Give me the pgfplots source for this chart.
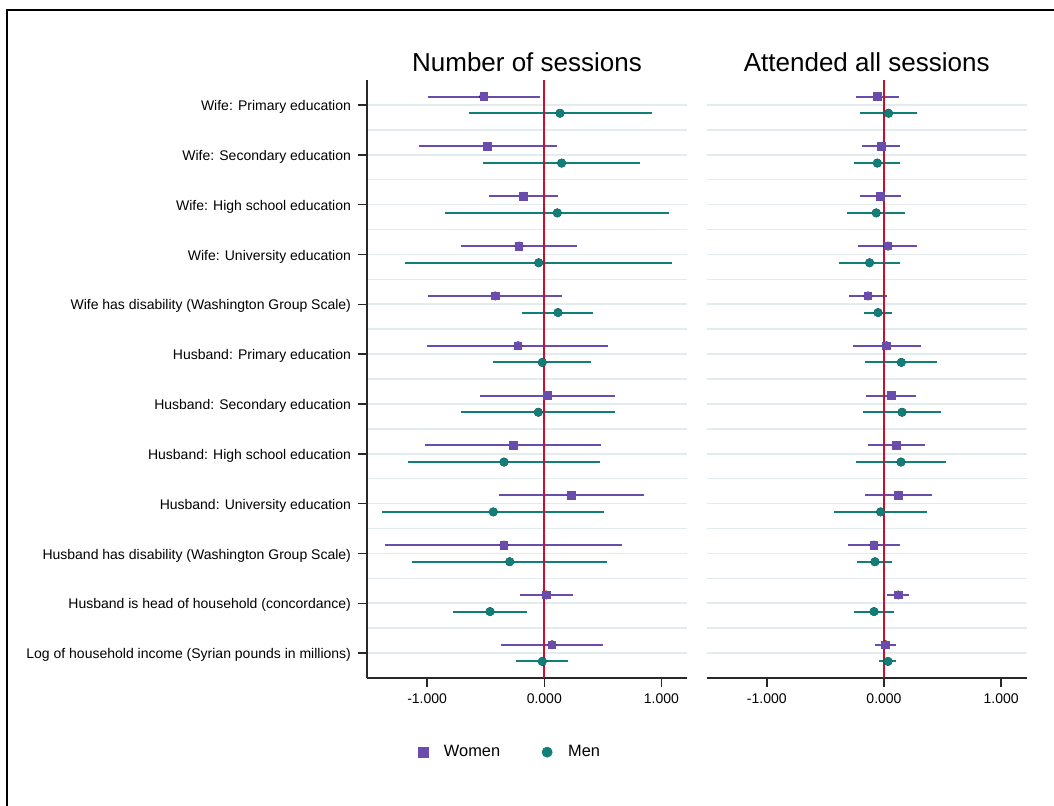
\documentclass[border=0pt]{standalone}
\usepackage{fontspec}
\setmainfont{Liberation Sans}
\usepackage{pgfplots}
\pgfplotsset{compat=1.18}
\usepackage{pgfplotstable}
\definecolor{womenc}{RGB}{106,76,173}
\definecolor{menc}{RGB}{18,126,120}
\definecolor{redl}{RGB}{200,16,46}
\definecolor{gridc}{RGB}{226,236,238}
\definecolor{axc}{RGB}{40,40,40}

% y = position (category 12 = top), x = estimate, lo/hi = CI
\pgfplotstableread{
y x lo hi
12.167 -0.517 -0.995 -0.037
11.167 -0.483 -1.069 0.106
10.167 -0.179 -0.472 0.120
9.167 -0.216 -0.713 0.279
8.167 -0.418 -0.990 0.151
7.167 -0.224 -0.998 0.546
6.167 0.029 -0.549 0.606
5.167 -0.264 -1.015 0.484
4.167 0.230 -0.389 0.851
3.167 -0.344 -1.357 0.663
2.167 0.017 -0.210 0.242
1.167 0.066 -0.367 0.501
}\LW
\pgfplotstableread{
y x lo hi
11.833 0.134 -0.643 0.916
10.833 0.148 -0.520 0.819
9.833 0.111 -0.845 1.067
8.833 -0.048 -1.189 1.092
7.833 0.117 -0.188 0.418
6.833 -0.017 -0.435 0.401
5.833 -0.051 -0.711 0.603
4.833 -0.344 -1.166 0.475
3.833 -0.435 -1.382 0.509
2.833 -0.295 -1.132 0.535
1.833 -0.463 -0.779 -0.150
0.833 -0.017 -0.241 0.205
}\LM
\pgfplotstableread{
y x lo hi
12.167 -0.057 -0.239 0.128
11.167 -0.023 -0.185 0.139
10.167 -0.032 -0.205 0.142
9.167 0.034 -0.219 0.284
8.167 -0.137 -0.302 0.026
7.167 0.022 -0.268 0.316
6.167 0.062 -0.151 0.276
5.167 0.108 -0.137 0.350
4.167 0.122 -0.165 0.406
3.167 -0.085 -0.307 0.133
2.167 0.122 0.026 0.216
1.167 0.014 -0.074 0.099
}\RW
\pgfplotstableread{
y x lo hi
11.833 0.039 -0.205 0.278
10.833 -0.057 -0.259 0.139
9.833 -0.066 -0.316 0.179
8.833 -0.123 -0.384 0.139
7.833 -0.051 -0.174 0.071
6.833 0.148 -0.160 0.455
5.833 0.154 -0.183 0.489
4.833 0.145 -0.239 0.529
3.833 -0.029 -0.430 0.369
2.833 -0.077 -0.228 0.071
1.833 -0.085 -0.256 0.085
0.833 0.034 -0.040 0.105
}\RM

\pgfplotsset{
  coefstyle/.style={
    scale only axis, width=160pt, height=299pt,
    xmin=-1.513, xmax=1.218, ymin=0.5, ymax=12.5,
    axis x line*=bottom, axis y line*=left,
    axis line style={-, draw=axc, line width=0.75pt},
    xtick={-1,0,1}, xticklabels={-1.000,0.000,1.000},
    ytick={1,...,12}, minor ytick={1.5,2.5,...,11.5},
    ymajorgrids, yminorgrids,
    major grid style={draw=gridc, line width=0.8pt},
    minor grid style={draw=gridc, line width=0.8pt},
    tick align=outside, major tick length=4.5pt, minor tick length=0pt,
    tick style={draw=axc, line width=0.75pt},
    ticklabel style={font=\fontsize{7}{8.4}\selectfont},
    yticklabel style={yshift=-1pt},
    title style={font=\fontsize{13}{15}\selectfont, at={(0.5,1)}, anchor=base, yshift=-1.5pt},
  },
  cistyle/.style={forget plot, only marks, mark=none, error bars/.cd, x dir=both, x explicit, error mark=none,
    error bar style={draw=#1, line width=1pt}},
}

\begin{document}
\begin{tikzpicture}
\useasboundingbox (0,0) rectangle (527pt,402.5pt);
\draw[line width=1pt, black] (3.5pt,-2pt) -- (3.5pt,397.5pt) -- (530pt,397.5pt);

\begin{axis}[coefstyle, at={(183.5pt,63.5pt)}, anchor=south west,
  title={Number of sessions},
  yticklabels={Log of household income (Syrian pounds in millions),
    Husband is head of household (concordance),
    Husband has disability (Washington Group Scale),
    Husband: University education,
    Husband: High school education,
    Husband: Secondary education,
    Husband: Primary education,
    Wife has disability (Washington Group Scale),
    Wife: University education,
    Wife: High school education,
    Wife: Secondary education,
    Wife: Primary education},
  legend style={at={(0.45,-0.124)}, anchor=center, draw=none, fill=none,
    legend columns=2, font=\fontsize{8.2}{10}\selectfont,
    /tikz/every odd column/.append style={column sep=6pt},
    /tikz/every even column/.append style={column sep=19pt}},
  legend image code/.code={\draw[#1] plot coordinates {(0pt,0pt)};},
]
\addlegendimage{only marks, mark=square*, mark size=2.5pt, womenc, fill=womenc}
\addlegendentry{Women}
\addlegendimage{only marks, mark=*, mark size=2.5pt, menc, fill=menc}
\addlegendentry{Men}
\addplot[cistyle=womenc] table[x=x, y=y, x error plus expr=\thisrow{hi}-\thisrow{x}, x error minus expr=\thisrow{x}-\thisrow{lo}] {\LW};
\addplot[cistyle=menc] table[x=x, y=y, x error plus expr=\thisrow{hi}-\thisrow{x}, x error minus expr=\thisrow{x}-\thisrow{lo}] {\LM};
\addplot[forget plot, redl, line width=1pt] coordinates {(0,0.5) (0,12.5)};
\addplot[forget plot, only marks, mark=square*, mark size=1.9pt, womenc] table[x=x, y=y] {\LW};
\addplot[forget plot, only marks, mark=*, mark size=2pt, menc] table[x=x, y=y] {\LM};
\end{axis}

\begin{axis}[coefstyle, at={(353.35pt,63.5pt)}, anchor=south west,
  title={Attended all sessions},
  yticklabels={}, y axis line style={draw=none}, ytick style={draw=none},
]
\addplot[cistyle=womenc] table[x=x, y=y, x error plus expr=\thisrow{hi}-\thisrow{x}, x error minus expr=\thisrow{x}-\thisrow{lo}] {\RW};
\addplot[cistyle=menc] table[x=x, y=y, x error plus expr=\thisrow{hi}-\thisrow{x}, x error minus expr=\thisrow{x}-\thisrow{lo}] {\RM};
\addplot[forget plot, redl, line width=1pt] coordinates {(0,0.5) (0,12.5)};
\addplot[forget plot, only marks, mark=square*, mark size=1.9pt, womenc] table[x=x, y=y] {\RW};
\addplot[forget plot, only marks, mark=*, mark size=2pt, menc] table[x=x, y=y] {\RM};
\end{axis}
\end{tikzpicture}
\end{document}
